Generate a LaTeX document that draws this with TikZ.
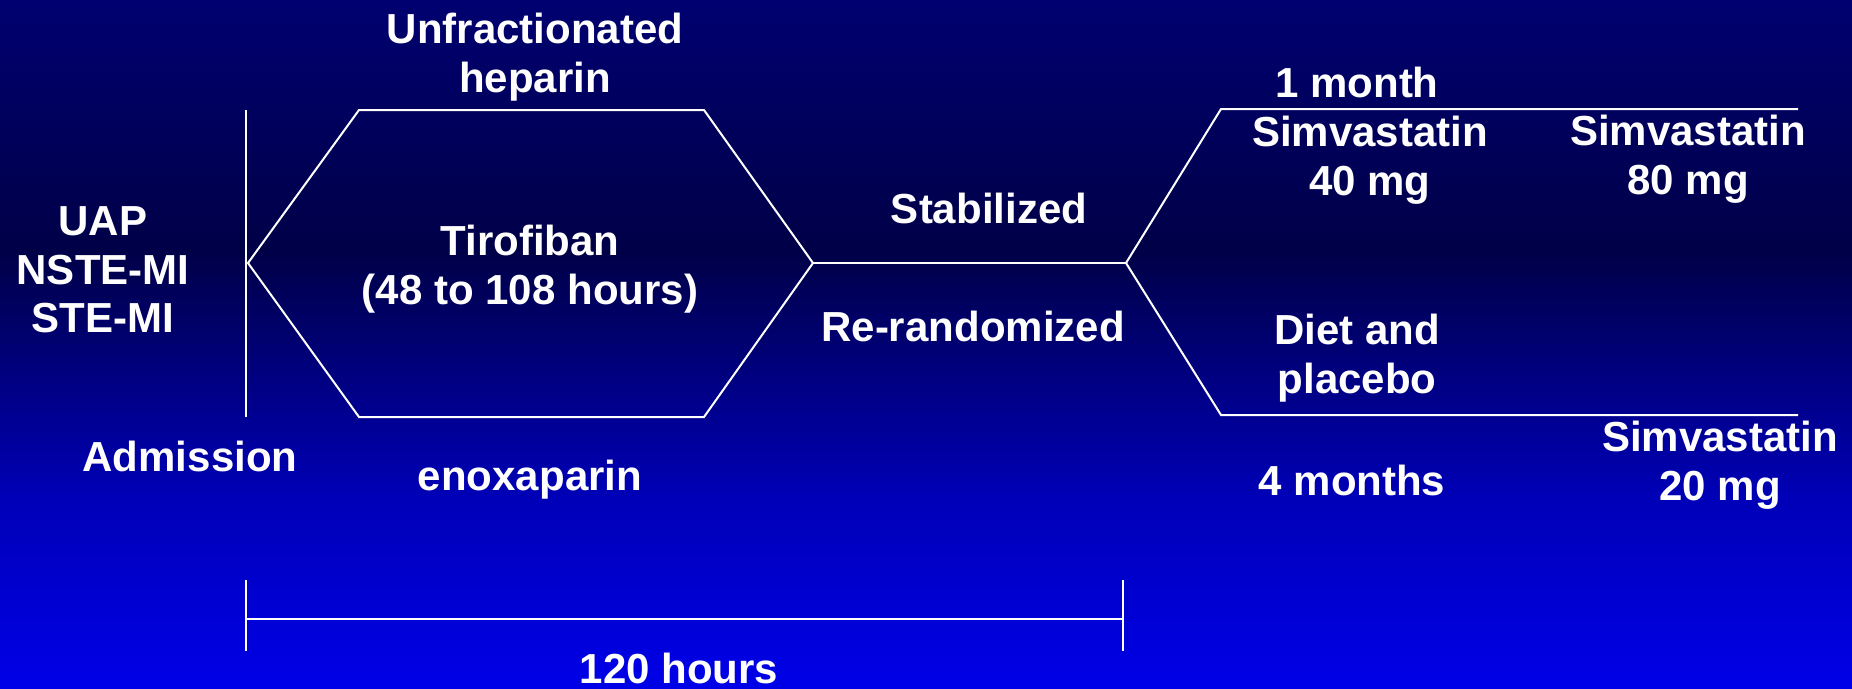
\documentclass[tikz,border=0pt]{standalone}
\usepackage{fontspec}
\setmainfont{Liberation Sans}
\pgfdeclareverticalshading{bgshade}{100bp}{rgb(0bp)=(0,0,0.91); rgb(25bp)=(0,0,0.91); rgb(38.7bp)=(0,0,0.72); rgb(56.8bp)=(0,0,0.28); rgb(75bp)=(0,0,0.44); rgb(100bp)=(0,0,0.44)}
\begin{document}
\begin{tikzpicture}[x=1pt,y=-1pt,
  lbl/.style={text=white, font=\fontsize{42}{48.5}\selectfont\bfseries, align=center, inner sep=0pt},
  wline/.style={draw=white, line width=2pt, line join=miter}]
\shade[shading=bgshade] (0,0) rectangle (1852,688);
\useasboundingbox (0,0) rectangle (1852,688);
% coordinates
\coordinate (admT) at (246,110);
\coordinate (admB) at (246,417);
\coordinate (hL) at (248,263);
\coordinate (hTL) at (359,110);
\coordinate (hTR) at (704,110);
\coordinate (hR) at (813,263);
\coordinate (hBR) at (704,417);
\coordinate (hBL) at (359,417);
\coordinate (stem) at (1126,263);
\coordinate (u1) at (1221,109);
\coordinate (u2) at (1798,109);
\coordinate (d1) at (1221,415);
\coordinate (d2) at (1798,415);
\coordinate (bLT) at (246,580);
\coordinate (bLB) at (246,651);
\coordinate (bRT) at (1123,580);
\coordinate (bRB) at (1123,651);
\coordinate (bL) at (246,619);
\coordinate (bR) at (1123,619);
% lines
\draw[wline] (admT) -- (admB);
\draw[wline] (hL) -- (hTL) -- (hTR) -- (hR) -- (hBR) -- (hBL) -- cycle;
\draw[wline] (hR) -- (stem);
\draw[wline] (u2) -- (u1) -- (stem) -- (d1) -- (d2);
\draw[wline] (bLT) -- (bLB);
\draw[wline] (bRT) -- (bRB);
\draw[wline] (bL) -- (bR);
% labels
\node[lbl] (ufh) at (535,57) {Unfractionated\\heparin};
\node[lbl] (dx) at (103,270) {UAP\\NSTE-MI\\STE-MI};
\node[lbl] (tiro) at (530,269) {Tirofiban\\(48 to 108 hours)};
\node[lbl] (adm) at (190,456) {Admission};
\node[lbl] (enox) at (530,480) {enoxaparin};
\node[lbl] (stab) at (989,208) {Stabilized};
\node[lbl] (rerand) at (973,326) {Re-randomized};
\node[lbl] (m1) at (1357,82) {1 month};
\node[lbl] (s40) at (1370,160) {Simvastatin\\40 mg};
\node[lbl] (s80) at (1688,159) {Simvastatin\\80 mg};
\node[lbl] (diet) at (1357,358) {Diet and\\placebo};
\node[lbl] (m4) at (1352,480) {4 months};
\node[lbl] (s20) at (1720,465) {Simvastatin\\20 mg};
\node[lbl] (h120) at (679,668) {120 hours};
\end{tikzpicture}
\end{document}
